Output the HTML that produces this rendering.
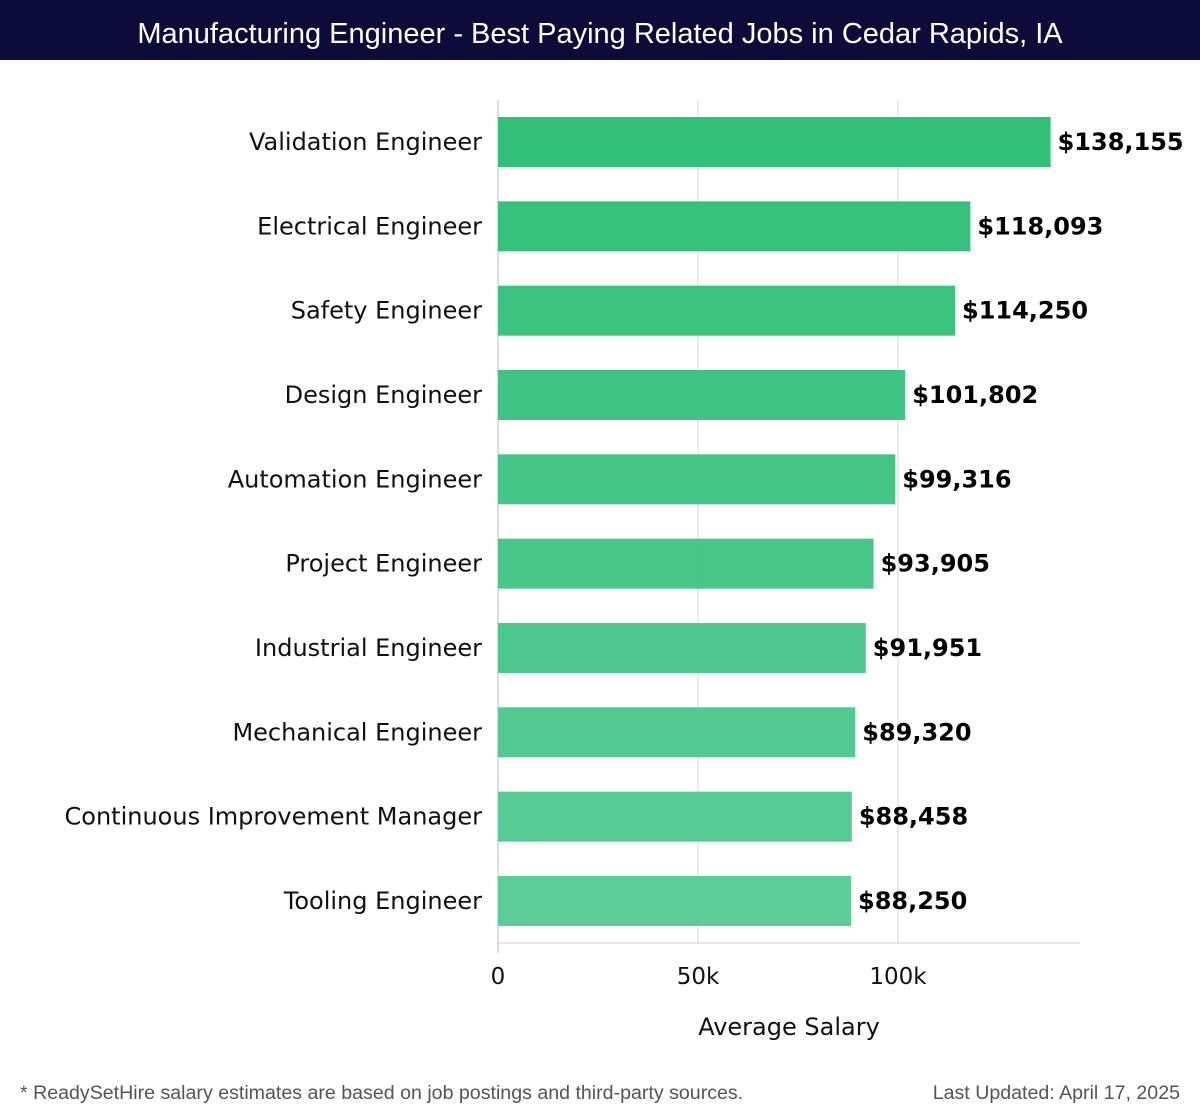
<!DOCTYPE html>
<html><head><meta charset="utf-8">
<style>
html,body{margin:0;padding:0;background:#fff;width:1200px;height:1120px;overflow:hidden}
svg{display:block}
</style></head>
<body>
<svg id="chart" width="1200" height="1120" xmlns="http://www.w3.org/2000/svg">
<rect x="0" y="0" width="1200" height="60" fill="#0d0b3a"/>
<text x="600" y="43" text-anchor="middle" fill="#ffffff" font-family="Liberation Sans, sans-serif" font-size="29">Manufacturing Engineer - Best Paying Related Jobs in Cedar Rapids, IA</text>
<g id="grid"></g>
<g id="bars"></g>
<g id="axis"></g>
<text x="789" y="1035" text-anchor="middle" fill="#111" font-family="DejaVu Sans, sans-serif" font-size="24">Average Salary</text>
<text x="20" y="1099" fill="#555" font-family="Liberation Sans, sans-serif" font-size="19.6">* ReadySetHire salary estimates are based on job postings and third-party sources.</text>
<text x="1180" y="1099" text-anchor="end" fill="#555" font-family="Liberation Sans, sans-serif" font-size="19.6">Last Updated: April 17, 2025</text>
</svg>
<script>
const categories = ["Validation Engineer","Electrical Engineer","Safety Engineer","Design Engineer","Automation Engineer","Project Engineer","Industrial Engineer","Mechanical Engineer","Continuous Improvement Manager","Tooling Engineer"];
const salaries = [138155,118093,114250,101802,99316,93905,91951,89320,88458,88250];
const valueLabels = ["$138,155","$118,093","$114,250","$101,802","$99,316","$93,905","$91,951","$89,320","$88,458","$88,250"];
const tickValues = [0,50000,100000];
const tickLabels = ["0","50k","100k"];

const NS="http://www.w3.org/2000/svg";
const x0=498, pxPer=0.004, plotTop=100, plotBottom=943, step=84.33, firstCenter=142, barH=50;
const xScale=v=>x0+v*pxPer;
const yScale=i=>firstCenter+i*step;
function mk(tag,attrs,parent){const e=document.createElementNS(NS,tag);for(const k in attrs)e.setAttribute(k,attrs[k]);parent.appendChild(e);return e;}
const grid=document.getElementById('grid'), bars=document.getElementById('bars'), axis=document.getElementById('axis');

tickValues.forEach((t,i)=>{
  const x=xScale(t);
  const gl=mk('line',{x1:x,x2:x,y1:plotTop,y2:i===0?953:plotBottom,stroke:i===0?'#cccccc':'#e0e0e0','stroke-width':1.3},grid);
  
  
  const tl=mk('text',{x:x,y:984,'text-anchor':'middle',fill:'#111','font-family':'DejaVu Sans, sans-serif','font-size':23},axis);
  tl.textContent=tickLabels[i];
  
  
});
const ax=mk('line',{x1:x0,x2:1080,y1:plotBottom,y2:plotBottom,stroke:'#d6d6d6','stroke-width':1.3},axis);



const c0=[43,189,116], c1=[87,203,149];
categories.forEach((c,i)=>{
  const t=i/(categories.length-1);
  const col=`rgb(${c0.map((v,k)=>Math.round(v+(c1[k]-v)*t)).join(',')})`;
  const cy=yScale(i);
  const r=mk('rect',{x:x0,y:cy-barH/2,width:xScale(salaries[i])-x0,height:barH,fill:col,'fill-opacity':0.97},bars);
  
  
  const lb=mk('text',{x:482,y:cy+8,'text-anchor':'end',fill:'#111','font-family':'DejaVu Sans, sans-serif','font-size':24},bars);
  lb.textContent=c;
  
  
  const vl=mk('text',{x:xScale(salaries[i])+7,y:cy+8,fill:'#000','font-family':'DejaVu Sans, sans-serif','font-size':24,'font-weight':'bold'},bars);
  vl.textContent=valueLabels[i];
  
  
});
</script>
</body></html>
